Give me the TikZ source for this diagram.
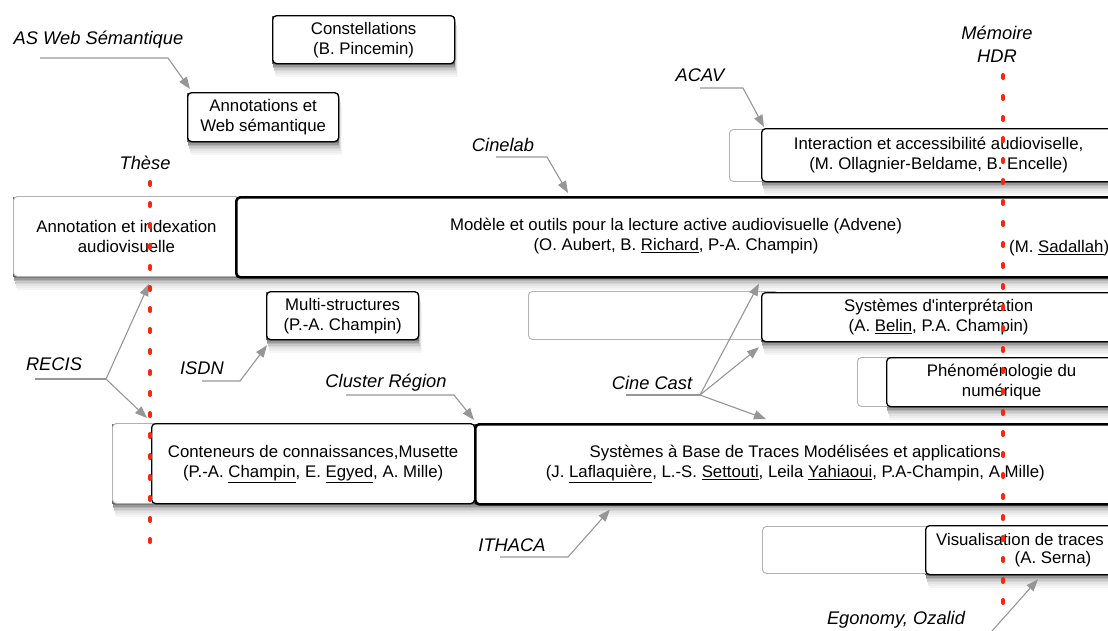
\documentclass[tikz,border=0pt]{standalone}
\usepackage{fontspec}
\setmainfont{Liberation Sans}
\usetikzlibrary{arrows.meta,calc}
\definecolor{redl}{RGB}{250,40,10}
\definecolor{conngrey}{RGB}{150,150,150}
\definecolor{ghostgrey}{RGB}{178,178,178}
\tikzset{shadowlayer/.style={fill=black!#1, draw=none}}
\newcommand\dropshade[4]{%
  \foreach \dd/\shd in {14/4,12/7,10/11,8/16,6.5/22,5/30,3.5/40,2/52,1/62}{%
    \path[shadowlayer=\shd] ({#1+0.25*\dd},{#2+\dd}) rectangle ({#1+#3+0.25*\dd},{#2+#4+\dd});}}
\begin{document}
\begin{tikzpicture}[x=1pt,y=-1pt,
  every node/.style={font=\fontsize{16.8}{20}\selectfont, inner sep=0pt},
  box/.style={draw=black, line width=1.3pt, rounded corners=4pt, fill=white, align=center, anchor=north west},
  thickbox/.style={box, line width=2.6pt},
  ghostbox/.style={draw=ghostgrey, line width=0.9pt, rounded corners=4pt, fill=white, align=center, anchor=north west},
  lab/.style={font=\fontsize{18.3}{22}\selectfont\itshape, align=center},
  txt/.style={align=center},
  link/.style={draw=conngrey, line width=1.1pt, -{Triangle[length=12pt,width=9pt]}},
  plainlink/.style={draw=conngrey, line width=1.1pt},
  redline/.style={draw=redl, line width=4pt, line cap=round, dash pattern=on 3pt off 18pt}
]
\useasboundingbox (0,0) rectangle (1108,630);
\clip (0,0) rectangle (1108,630);

% drop shadows (drawn first, behind the boxes)
\dropshade{13}{196}{226}{80}
\dropshade{112}{423}{50}{80}
\dropshade{272}{15}{182}{48}
\dropshade{187}{92}{151}{49}
\dropshade{235}{196}{890}{80}
\dropshade{761}{128}{354}{53}
\dropshade{266}{291}{152}{48}
\dropshade{761}{292}{354}{49}
\dropshade{886}{357}{230}{49}
\dropshade{151}{423}{323}{80}
\dropshade{474}{423}{640}{80}
\dropshade{925}{525}{190}{49}

% ghost boxes
\node[ghostbox, minimum width=226pt, minimum height=80pt] (annidx) at (13,196) {Annotation et indexation\\audiovisuelle};
\node[ghostbox, minimum width=60pt, minimum height=52pt] (interG) at (729,129) {};
\node[ghostbox, minimum width=250pt, minimum height=48pt] (interpG) at (528,291) {};
\node[ghostbox, minimum width=50pt, minimum height=49pt] (phenoG) at (857,357) {};
\node[ghostbox, minimum width=50pt, minimum height=80pt] (contG) at (112,423) {};
\node[ghostbox, minimum width=200pt, minimum height=47pt] (visG) at (762,526) {};

% black boxes
\node[box, minimum width=182pt, minimum height=48pt] (const) at (272,15) {Constellations\\(B. Pincemin)};
\node[box, minimum width=151pt, minimum height=49pt] (aws) at (187,92) {Annotations et\\Web sémantique};
\node[thickbox, minimum width=890pt, minimum height=80pt] (advene) at (235,196) {};
\node[txt] (t-adv) at (676,236) {Modèle et outils pour la lecture active audiovisuelle (Advene)\\(O. Aubert, B. \underline{Richard}, P-A. Champin)};
\node[anchor=west] (t-sad) at (1009,248) {(M. \underline{Sadallah})};
\node[box, minimum width=354pt, minimum height=53pt] (inter) at (761,128) {Interaction et accessibilité audioviselle,\\(M. Ollagnier-Beldame, B. Encelle)};
\node[box, minimum width=152pt, minimum height=48pt] (multi) at (266,291) {Multi-structures\\(P.-A. Champin)};
\node[box, minimum width=354pt, minimum height=49pt] (interp) at (761,292) {Systèmes d\textquotesingle interprétation\\(A. \underline{Belin}, P.A. Champin)};
\node[box, minimum width=230pt, minimum height=49pt] (pheno) at (886,357) {Phénoménologie du\\numérique};
\node[box, minimum width=323pt, minimum height=80pt] (cont) at (151,423) {Conteneurs de connaissances,Musette\\(P.-A. \underline{Champin}, E. \underline{Egyed}, A. Mille)};
\node[thickbox, minimum width=640pt, minimum height=80pt] (sbt) at (474,423) {Systèmes à Base de Traces Modélisées et applications\\(J. \underline{Laflaquière}, L.-S. \underline{Settouti}, Leila \underline{Yahiaoui}, P.A-Champin, A.Mille)};
\node[box, minimum width=190pt, minimum height=49pt] (vis) at (925,525) {};
\node (t-vis1) at (1020,539) {Visualisation de traces};
\node (t-vis2) at (1053,559) {(A. Serna)};

% labels
\node[lab] (l-asw) at (98.5,40) {AS Web Sémantique};
\node[lab] (l-these) at (145,163) {Thèse};
\node[lab] (l-acav) at (700,75) {ACAV};
\node[lab] (l-mem) at (997,44) {Mémoire\\[1pt]HDR};
\node[lab] (l-cinelab) at (503,145) {Cinelab};
\node[lab] (l-recis) at (54,364) {RECIS};
\node[lab] (l-isdn) at (202,368) {ISDN};
\node[lab] (l-cluster) at (386,383) {Cluster Région};
\node[lab] (l-cinecast) at (652,383) {Cine Cast};
\node[lab] (l-ithaca) at (512,545) {ITHACA};
\node[lab] (l-ego) at (896,620) {Egonomy, Ozalid};

% connector coordinates
\coordinate (asw-s) at (40,58);   \coordinate (asw-k) at (168,58);
\coordinate (acav-s) at (700,88); \coordinate (acav-k) at (743,88);
\coordinate (cin-s) at (496,157); \coordinate (cin-k) at (547,157);
\coordinate (rec-s) at (35,379);  \coordinate (rec-k) at (106,379);
\coordinate (isdn-s) at (202,381); \coordinate (isdn-k) at (240,381);
\coordinate (clu-s) at (346,395); \coordinate (clu-k) at (454,395);
\coordinate (cc-s) at (626,395);  \coordinate (cc-k) at (700,395);
\coordinate (ith-s) at (500,557); \coordinate (ith-k) at (568,557);
\coordinate (ego-s) at (984,640);

% connectors
\draw[link] (asw-s) -- (asw-k) -- ($(aws.north west)+(3,-3)$);
\draw[link] (acav-s) -- (acav-k) -- ($(inter.north west)+(3,-1)$);
\draw[link] (cin-s) -- (cin-k) -- ($(advene.north west)+(333,-3)$);
\draw[plainlink] (rec-s) -- (rec-k);
\draw[link] (rec-k) -- ($(annidx.south west)+(136,7)$);
\draw[link] (rec-k) -- ($(contG.north west)+(35,-5)$);
\draw[link] (isdn-s) -- (isdn-k) -- ($(multi.south west)+(1,5)$);
\draw[link] (clu-s) -- (clu-k) -- ($(sbt.north west)+(0,-3)$);
\draw[plainlink] (cc-s) -- (cc-k);
\draw[link] (cc-k) -- ($(advene.south west)+(524,5)$);
\draw[link] (cc-k) -- ($(interp.south west)+(-2,5)$);
\draw[link] (cc-k) -- ($(sbt.north west)+(292,-4)$);
\draw[link] (ith-s) -- (ith-k) -- ($(sbt.south west)+(136,4)$);
\draw[link] (ego-s) -- ($(vis.south west)+(113,4)$);

% red milestone lines
\coordinate (these-top) at (150,182); \coordinate (these-bot) at (150,545);
\coordinate (hdr-top) at (1003,75);   \coordinate (hdr-bot) at (1003,608);
\draw[redline] (these-top) -- (these-bot);
\draw[redline] (hdr-top) -- (hdr-bot);
\end{tikzpicture}
\end{document}
